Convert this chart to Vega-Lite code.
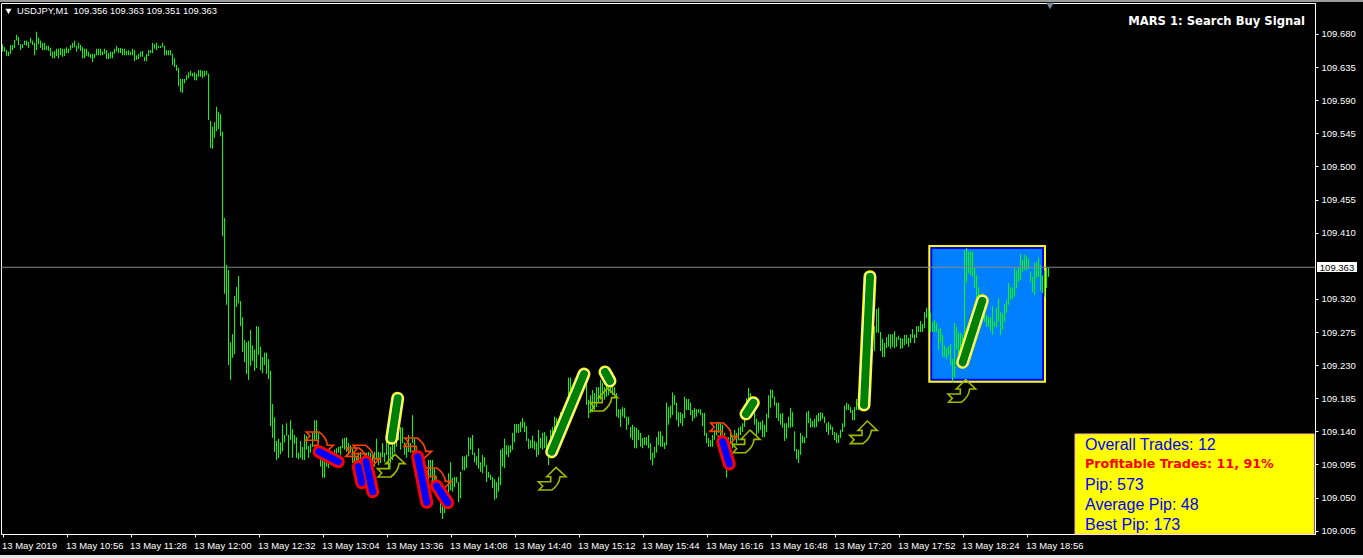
{"$schema":"https://vega.github.io/schema/vega-lite/v6.json","width":1314,"height":531,"autosize":"none","padding":{"left":1,"top":3,"right":48,"bottom":24},"background":"#000000","config":{"view":{"stroke":"#ffffff","strokeWidth":1,"fill":"#000000"},"axis":{"grid":false,"title":null,"domainColor":"#ffffff","tickColor":"#ffffff","labelColor":"#ffffff","labelFont":"Liberation Sans","labelFontSize":9.5,"tickSize":3}},
"encoding":{"x":{"field":"m","type":"quantitative","scale":{"domain":[623.25,1280.25],"nice":false,"zero":false,"clamp":false},"axis":{"title":null,"orient":"bottom","values":[624,656,688,720,752,784,816,848,880,912,944,976,1008,1040,1072,1104,1136],"labelAlign":"left","labelBaseline":"top","labelPadding":3,"labelOffset":-1,"labelOverlap":false,"labelFlush":false,"labelExpr":"datum.value==624?'13 May 2019':'13 May '+format(floor(datum.value/60),'02d')+':'+format(datum.value%60,'02d')"}},"y":{"field":"p","type":"quantitative","scale":{"domain":[109.0005,109.7221],"nice":false,"zero":false,"clamp":false},"axis":{"title":null,"orient":"right","values":[109.005,109.05,109.095,109.14,109.185,109.23,109.275,109.32,109.41,109.455,109.5,109.545,109.59,109.635,109.68],"format":".3f","labelPadding":3,"labelOverlap":false,"labelFlush":false}}},
"datasets":{
"boxes":[{"m":622.75,"m2":1304.25,"p":109.7262,"p2":109.7235,"part":"top"},{"m":622.75,"m2":1304.25,"p":108.972,"p2":108.9,"part":"bottom"},{"m":1086.9,"m2":1145.75,"p":109.3933,"p2":109.2061,"part":"outer"},{"m":1087.9,"m2":1144.75,"p":109.3905,"p2":109.2088,"part":"mid"},{"m":1088.9,"m2":1143.75,"p":109.3878,"p2":109.2116,"part":"inner"}],
"lastPrice":[{"m":623.25,"m2":1280.25,"p":109.363}],
"priceTag":[{"m":1281.25,"m2":1301.25,"p":109.3701,"p2":109.3566}],
"priceTagText":[{"m":1291.25,"p":109.3625,"label":"109.363"}],
"header":[{"m":631.25,"p":109.7112,"label":"USDJPY,M1\u00a0\u00a0109.356 109.363 109.351 109.363"}],
"marker":[{"m":627,"p":109.7106}],
"shift":[{"m":1147.75,"p":109.718}],
"signal":[{"m":1275.25,"p":109.6963,"label":"MARS 1: Search Buy Signal"}],
"panel":[{"m":1160.25,"m2":1279.75,"p":109.1364,"p2":109.0005}],
"panelText":[{"m":1165.25,"p":109.1228,"label":"Overall Trades: 12"},{"m":1165.25,"p":109.0684,"label":"Pip: 573"},{"m":1165.25,"p":109.0413,"label":"Average Pip: 48"},{"m":1165.25,"p":109.0141,"label":"Best Pip: 173"}],
"panelBold":[{"m":1165.25,"p":109.0956,"label":"Profitable Trades: 11, 91%"}],
"buyArrow":[{"m":818.6,"p":109.0929},{"m":899.1,"p":109.0752},{"m":924.9,"p":109.1826},{"m":996.1,"p":109.1259},{"m":1054.75,"p":109.1382},{"m":1103.9,"p":109.1944}],
"sellArrow":[{"m":782.75,"p":109.1242},{"m":802.75,"p":109.1024},{"m":806.1,"p":109.1061},{"m":831.9,"p":109.116},{"m":841.75,"p":109.0752},{"m":984.9,"p":109.1364}],
"buySeg":[{"m":818.6,"m2":821.6,"p":109.1305,"p2":109.1849},{"m":898.6,"m2":914.75,"p":109.1123,"p2":109.2179},{"m":925.25,"m2":927.75,"p":109.2206,"p2":109.2084},{"m":995.75,"m2":999.4,"p":109.1636,"p2":109.1789},{"m":1054.75,"m2":1057.75,"p":109.1758,"p2":109.3502},{"m":1104.1,"m2":1113.9,"p":109.2338,"p2":109.3175}],
"sellSeg":[{"m":782.25,"m2":791.9,"p":109.1123,"p2":109.0987},{"m":801.9,"m2":803.6,"p":109.092,"p2":109.0702},{"m":805.75,"m2":809.1,"p":109.0987,"p2":109.058},{"m":831.6,"m2":836.1,"p":109.1055,"p2":109.0436},{"m":841.1,"m2":846.6,"p":109.0657,"p2":109.043},{"m":984.1,"m2":987.4,"p":109.1259,"p2":109.0956}],
"bars":[
{"m":624,"p":109.666,"p2":109.656},{"m":625,"p":109.662,"p2":109.656},{"m":626,"p":109.658,"p2":109.65},{"m":627,"p":109.656,"p2":109.65},{"m":628,"p":109.665,"p2":109.653},{"m":629,"p":109.665,"p2":109.658},{"m":630,"p":109.672,"p2":109.661},{"m":631,"p":109.679,"p2":109.671},{"m":632,"p":109.676,"p2":109.665},{"m":633,"p":109.666,"p2":109.658},{"m":634,"p":109.666,"p2":109.661},{"m":635,"p":109.671,"p2":109.665},{"m":636,"p":109.671,"p2":109.664},{"m":637,"p":109.669,"p2":109.661},{"m":638,"p":109.675,"p2":109.668},{"m":639,"p":109.671,"p2":109.665},{"m":640,"p":109.668,"p2":109.651},{"m":641,"p":109.683,"p2":109.658},{"m":642,"p":109.675,"p2":109.666},{"m":643,"p":109.671,"p2":109.661},{"m":644,"p":109.668,"p2":109.658},{"m":645,"p":109.668,"p2":109.658},{"m":646,"p":109.664,"p2":109.658},{"m":647,"p":109.664,"p2":109.657},{"m":648,"p":109.661,"p2":109.65},{"m":649,"p":109.656,"p2":109.647},{"m":650,"p":109.657,"p2":109.647},{"m":651,"p":109.66,"p2":109.65},{"m":652,"p":109.66,"p2":109.647},{"m":653,"p":109.661,"p2":109.651},{"m":654,"p":109.66,"p2":109.649},{"m":655,"p":109.66,"p2":109.65},{"m":656,"p":109.662,"p2":109.654},{"m":657,"p":109.66,"p2":109.654},{"m":658,"p":109.665,"p2":109.658},{"m":659,"p":109.668,"p2":109.661},{"m":660,"p":109.671,"p2":109.662},{"m":661,"p":109.664,"p2":109.656},{"m":662,"p":109.668,"p2":109.66},{"m":663,"p":109.665,"p2":109.657},{"m":664,"p":109.662,"p2":109.647},{"m":665,"p":109.66,"p2":109.647},{"m":666,"p":109.66,"p2":109.65},{"m":667,"p":109.656,"p2":109.649},{"m":668,"p":109.653,"p2":109.647},{"m":669,"p":109.653,"p2":109.642},{"m":670,"p":109.653,"p2":109.647},{"m":671,"p":109.66,"p2":109.651},{"m":672,"p":109.66,"p2":109.651},{"m":673,"p":109.66,"p2":109.651},{"m":674,"p":109.656,"p2":109.651},{"m":675,"p":109.66,"p2":109.653},{"m":676,"p":109.658,"p2":109.646},{"m":677,"p":109.654,"p2":109.646},{"m":678,"p":109.656,"p2":109.647},{"m":679,"p":109.656,"p2":109.647},{"m":680,"p":109.66,"p2":109.653},{"m":681,"p":109.664,"p2":109.656},{"m":682,"p":109.661,"p2":109.654},{"m":683,"p":109.661,"p2":109.654},{"m":684,"p":109.66,"p2":109.651},{"m":685,"p":109.66,"p2":109.651},{"m":686,"p":109.657,"p2":109.651},{"m":687,"p":109.658,"p2":109.651},{"m":688,"p":109.656,"p2":109.651},{"m":689,"p":109.66,"p2":109.651},{"m":690,"p":109.658,"p2":109.643},{"m":691,"p":109.651,"p2":109.645},{"m":692,"p":109.653,"p2":109.646},{"m":693,"p":109.656,"p2":109.649},{"m":694,"p":109.657,"p2":109.649},{"m":695,"p":109.649,"p2":109.643},{"m":696,"p":109.653,"p2":109.643},{"m":697,"p":109.658,"p2":109.65},{"m":698,"p":109.658,"p2":109.654},{"m":699,"p":109.668,"p2":109.654},{"m":700,"p":109.666,"p2":109.66},{"m":701,"p":109.668,"p2":109.658},{"m":702,"p":109.664,"p2":109.661},{"m":703,"p":109.664,"p2":109.661},{"m":704,"p":109.668,"p2":109.662},{"m":705,"p":109.664,"p2":109.651},{"m":706,"p":109.658,"p2":109.651},{"m":707,"p":109.658,"p2":109.651},{"m":708,"p":109.658,"p2":109.651},{"m":709,"p":109.653,"p2":109.638},{"m":710,"p":109.647,"p2":109.635},{"m":711,"p":109.638,"p2":109.63},{"m":712,"p":109.634,"p2":109.609},{"m":713,"p":109.619,"p2":109.601},{"m":714,"p":109.619,"p2":109.6},{"m":715,"p":109.619,"p2":109.613},{"m":716,"p":109.624,"p2":109.617},{"m":717,"p":109.628,"p2":109.62},{"m":718,"p":109.63,"p2":109.623},{"m":719,"p":109.627,"p2":109.622},{"m":720,"p":109.628,"p2":109.617},{"m":721,"p":109.626,"p2":109.617},{"m":722,"p":109.631,"p2":109.622},{"m":723,"p":109.631,"p2":109.622},{"m":724,"p":109.63,"p2":109.62},{"m":725,"p":109.63,"p2":109.622},{"m":726,"p":109.63,"p2":109.624},{"m":727,"p":109.626,"p2":109.563},{"m":728,"p":109.562,"p2":109.525},{"m":729,"p":109.554,"p2":109.524},{"m":730,"p":109.56,"p2":109.539},{"m":731,"p":109.581,"p2":109.548},{"m":732,"p":109.574,"p2":109.551},{"m":733,"p":109.571,"p2":109.541},{"m":734,"p":109.547,"p2":109.405},{"m":735,"p":109.43,"p2":109.327},{"m":736,"p":109.366,"p2":109.312},{"m":737,"p":109.359,"p2":109.23},{"m":738,"p":109.261,"p2":109.21},{"m":739,"p":109.272,"p2":109.24},{"m":740,"p":109.324,"p2":109.245},{"m":741,"p":109.336,"p2":109.309},{"m":742,"p":109.351,"p2":109.314},{"m":743,"p":109.317,"p2":109.283},{"m":744,"p":109.295,"p2":109.248},{"m":745,"p":109.264,"p2":109.234},{"m":746,"p":109.261,"p2":109.218},{"m":747,"p":109.263,"p2":109.21},{"m":748,"p":109.278,"p2":109.229},{"m":749,"p":109.257,"p2":109.236},{"m":750,"p":109.251,"p2":109.222},{"m":751,"p":109.283,"p2":109.226},{"m":752,"p":109.282,"p2":109.244},{"m":753,"p":109.255,"p2":109.223},{"m":754,"p":109.241,"p2":109.219},{"m":755,"p":109.247,"p2":109.23},{"m":756,"p":109.247,"p2":109.218},{"m":757,"p":109.238,"p2":109.211},{"m":758,"p":109.222,"p2":109.147},{"m":759,"p":109.177,"p2":109.131},{"m":760,"p":109.159,"p2":109.112},{"m":761,"p":109.127,"p2":109.101},{"m":762,"p":109.13,"p2":109.104},{"m":763,"p":109.125,"p2":109.109},{"m":764,"p":109.149,"p2":109.113},{"m":765,"p":109.135,"p2":109.125},{"m":766,"p":109.151,"p2":109.134},{"m":767,"p":109.135,"p2":109.104},{"m":768,"p":109.155,"p2":109.128},{"m":769,"p":109.143,"p2":109.104},{"m":770,"p":109.135,"p2":109.123},{"m":771,"p":109.132,"p2":109.104},{"m":772,"p":109.111,"p2":109.102},{"m":773,"p":109.127,"p2":109.104},{"m":774,"p":109.119,"p2":109.101},{"m":775,"p":109.136,"p2":109.101},{"m":776,"p":109.134,"p2":109.115},{"m":777,"p":109.12,"p2":109.104},{"m":778,"p":109.123,"p2":109.111},{"m":779,"p":109.138,"p2":109.119},{"m":780,"p":109.155,"p2":109.128},{"m":781,"p":109.155,"p2":109.128},{"m":782,"p":109.138,"p2":109.124},{"m":783,"p":109.119,"p2":109.092},{"m":784,"p":109.111,"p2":109.077},{"m":785,"p":109.105,"p2":109.077},{"m":786,"p":109.101,"p2":109.092},{"m":787,"p":109.101,"p2":109.09},{"m":788,"p":109.111,"p2":109.097},{"m":789,"p":109.112,"p2":109.101},{"m":790,"p":109.115,"p2":109.105},{"m":791,"p":109.117,"p2":109.108},{"m":792,"p":109.119,"p2":109.111},{"m":793,"p":109.12,"p2":109.108},{"m":794,"p":109.13,"p2":109.117},{"m":795,"p":109.131,"p2":109.115},{"m":796,"p":109.132,"p2":109.112},{"m":797,"p":109.124,"p2":109.108},{"m":798,"p":109.121,"p2":109.111},{"m":799,"p":109.116,"p2":109.097},{"m":800,"p":109.111,"p2":109.092},{"m":801,"p":109.105,"p2":109.087},{"m":802,"p":109.111,"p2":109.09},{"m":803,"p":109.112,"p2":109.092},{"m":804,"p":109.104,"p2":109.078},{"m":805,"p":109.111,"p2":109.083},{"m":806,"p":109.111,"p2":109.087},{"m":807,"p":109.112,"p2":109.092},{"m":808,"p":109.111,"p2":109.09},{"m":809,"p":109.108,"p2":109.09},{"m":810,"p":109.112,"p2":109.092},{"m":811,"p":109.13,"p2":109.101},{"m":812,"p":109.112,"p2":109.094},{"m":813,"p":109.111,"p2":109.097},{"m":814,"p":109.124,"p2":109.105},{"m":815,"p":109.111,"p2":109.098},{"m":816,"p":109.128,"p2":109.108},{"m":817,"p":109.125,"p2":109.09},{"m":818,"p":109.119,"p2":109.097},{"m":819,"p":109.124,"p2":109.101},{"m":820,"p":109.128,"p2":109.111},{"m":821,"p":109.142,"p2":109.119},{"m":822,"p":109.145,"p2":109.128},{"m":823,"p":109.146,"p2":109.115},{"m":824,"p":109.145,"p2":109.124},{"m":825,"p":109.125,"p2":109.108},{"m":826,"p":109.119,"p2":109.104},{"m":827,"p":109.135,"p2":109.112},{"m":828,"p":109.124,"p2":109.111},{"m":829,"p":109.162,"p2":109.124},{"m":830,"p":109.131,"p2":109.104},{"m":831,"p":109.111,"p2":109.092},{"m":832,"p":109.105,"p2":109.083},{"m":833,"p":109.101,"p2":109.078},{"m":834,"p":109.092,"p2":109.07},{"m":835,"p":109.101,"p2":109.06},{"m":836,"p":109.092,"p2":109.071},{"m":837,"p":109.101,"p2":109.074},{"m":838,"p":109.101,"p2":109.077},{"m":839,"p":109.101,"p2":109.071},{"m":840,"p":109.09,"p2":109.056},{"m":841,"p":109.078,"p2":109.056},{"m":842,"p":109.074,"p2":109.049},{"m":843,"p":109.06,"p2":109.029},{"m":844,"p":109.06,"p2":109.021},{"m":845,"p":109.047,"p2":109.029},{"m":846,"p":109.051,"p2":109.037},{"m":847,"p":109.083,"p2":109.049},{"m":848,"p":109.098,"p2":109.06},{"m":849,"p":109.077,"p2":109.058},{"m":850,"p":109.078,"p2":109.064},{"m":851,"p":109.078,"p2":109.07},{"m":852,"p":109.071,"p2":109.044},{"m":853,"p":109.085,"p2":109.049},{"m":854,"p":109.106,"p2":109.087},{"m":855,"p":109.106,"p2":109.087},{"m":856,"p":109.108,"p2":109.09},{"m":857,"p":109.132,"p2":109.106},{"m":858,"p":109.131,"p2":109.115},{"m":859,"p":109.135,"p2":109.108},{"m":860,"p":109.111,"p2":109.098},{"m":861,"p":109.106,"p2":109.094},{"m":862,"p":109.117,"p2":109.089},{"m":863,"p":109.098,"p2":109.085},{"m":864,"p":109.108,"p2":109.083},{"m":865,"p":109.105,"p2":109.092},{"m":866,"p":109.094,"p2":109.071},{"m":867,"p":109.085,"p2":109.077},{"m":868,"p":109.081,"p2":109.074},{"m":869,"p":109.078,"p2":109.063},{"m":870,"p":109.075,"p2":109.047},{"m":871,"p":109.071,"p2":109.049},{"m":872,"p":109.078,"p2":109.058},{"m":873,"p":109.115,"p2":109.067},{"m":874,"p":109.117,"p2":109.092},{"m":875,"p":109.13,"p2":109.09},{"m":876,"p":109.121,"p2":109.108},{"m":877,"p":109.121,"p2":109.105},{"m":878,"p":109.121,"p2":109.111},{"m":879,"p":109.138,"p2":109.115},{"m":880,"p":109.15,"p2":109.125},{"m":881,"p":109.15,"p2":109.138},{"m":882,"p":109.15,"p2":109.138},{"m":883,"p":109.153,"p2":109.139},{"m":884,"p":109.158,"p2":109.145},{"m":885,"p":109.153,"p2":109.139},{"m":886,"p":109.147,"p2":109.127},{"m":887,"p":109.13,"p2":109.116},{"m":888,"p":109.128,"p2":109.117},{"m":889,"p":109.134,"p2":109.117},{"m":890,"p":109.127,"p2":109.115},{"m":891,"p":109.125,"p2":109.105},{"m":892,"p":109.142,"p2":109.108},{"m":893,"p":109.131,"p2":109.117},{"m":894,"p":109.138,"p2":109.115},{"m":895,"p":109.139,"p2":109.117},{"m":896,"p":109.134,"p2":109.115},{"m":897,"p":109.124,"p2":109.094},{"m":898,"p":109.142,"p2":109.115},{"m":899,"p":109.146,"p2":109.119},{"m":900,"p":109.16,"p2":109.128},{"m":901,"p":109.158,"p2":109.138},{"m":902,"p":109.155,"p2":109.139},{"m":903,"p":109.166,"p2":109.145},{"m":904,"p":109.169,"p2":109.149},{"m":905,"p":109.173,"p2":109.155},{"m":906,"p":109.176,"p2":109.162},{"m":907,"p":109.213,"p2":109.183},{"m":908,"p":109.213,"p2":109.189},{"m":909,"p":109.199,"p2":109.179},{"m":910,"p":109.206,"p2":109.187},{"m":911,"p":109.21,"p2":109.192},{"m":912,"p":109.214,"p2":109.196},{"m":913,"p":109.217,"p2":109.2},{"m":914,"p":109.219,"p2":109.2},{"m":915,"p":109.221,"p2":109.206},{"m":916,"p":109.206,"p2":109.176},{"m":917,"p":109.183,"p2":109.158},{"m":918,"p":109.189,"p2":109.165},{"m":919,"p":109.196,"p2":109.166},{"m":920,"p":109.192,"p2":109.169},{"m":921,"p":109.2,"p2":109.173},{"m":922,"p":109.2,"p2":109.179},{"m":923,"p":109.21,"p2":109.183},{"m":924,"p":109.206,"p2":109.185},{"m":925,"p":109.2,"p2":109.183},{"m":926,"p":109.206,"p2":109.187},{"m":927,"p":109.207,"p2":109.189},{"m":928,"p":109.203,"p2":109.192},{"m":929,"p":109.2,"p2":109.189},{"m":930,"p":109.2,"p2":109.187},{"m":931,"p":109.192,"p2":109.16},{"m":932,"p":109.17,"p2":109.158},{"m":933,"p":109.17,"p2":109.146},{"m":934,"p":109.173,"p2":109.16},{"m":935,"p":109.172,"p2":109.158},{"m":936,"p":109.16,"p2":109.142},{"m":937,"p":109.16,"p2":109.149},{"m":938,"p":109.146,"p2":109.131},{"m":939,"p":109.149,"p2":109.128},{"m":940,"p":109.146,"p2":109.117},{"m":941,"p":109.145,"p2":109.117},{"m":942,"p":109.142,"p2":109.128},{"m":943,"p":109.138,"p2":109.119},{"m":944,"p":109.131,"p2":109.117},{"m":945,"p":109.132,"p2":109.121},{"m":946,"p":109.132,"p2":109.121},{"m":947,"p":109.135,"p2":109.117},{"m":948,"p":109.124,"p2":109.101},{"m":949,"p":109.111,"p2":109.094},{"m":950,"p":109.119,"p2":109.104},{"m":951,"p":109.132,"p2":109.111},{"m":952,"p":109.14,"p2":109.121},{"m":953,"p":109.14,"p2":109.119},{"m":954,"p":109.134,"p2":109.119},{"m":955,"p":109.125,"p2":109.116},{"m":956,"p":109.179,"p2":109.121},{"m":957,"p":109.173,"p2":109.149},{"m":958,"p":109.175,"p2":109.158},{"m":959,"p":109.193,"p2":109.162},{"m":960,"p":109.189,"p2":109.176},{"m":961,"p":109.179,"p2":109.155},{"m":962,"p":109.166,"p2":109.146},{"m":963,"p":109.166,"p2":109.151},{"m":964,"p":109.164,"p2":109.147},{"m":965,"p":109.187,"p2":109.158},{"m":966,"p":109.184,"p2":109.169},{"m":967,"p":109.184,"p2":109.169},{"m":968,"p":109.179,"p2":109.162},{"m":969,"p":109.169,"p2":109.154},{"m":970,"p":109.172,"p2":109.158},{"m":971,"p":109.17,"p2":109.16},{"m":972,"p":109.17,"p2":109.165},{"m":973,"p":109.17,"p2":109.162},{"m":974,"p":109.165,"p2":109.147},{"m":975,"p":109.165,"p2":109.134},{"m":976,"p":109.138,"p2":109.124},{"m":977,"p":109.131,"p2":109.119},{"m":978,"p":109.128,"p2":109.119},{"m":979,"p":109.135,"p2":109.119},{"m":980,"p":109.142,"p2":109.128},{"m":981,"p":109.151,"p2":109.135},{"m":982,"p":109.153,"p2":109.138},{"m":983,"p":109.151,"p2":109.128},{"m":984,"p":109.149,"p2":109.132},{"m":985,"p":109.138,"p2":109.119},{"m":986,"p":109.119,"p2":109.077},{"m":987,"p":109.132,"p2":109.115},{"m":988,"p":109.142,"p2":109.124},{"m":989,"p":109.135,"p2":109.117},{"m":990,"p":109.142,"p2":109.128},{"m":991,"p":109.138,"p2":109.124},{"m":992,"p":109.145,"p2":109.128},{"m":993,"p":109.147,"p2":109.135},{"m":994,"p":109.151,"p2":109.139},{"m":995,"p":109.165,"p2":109.146},{"m":996,"p":109.185,"p2":109.165},{"m":997,"p":109.199,"p2":109.172},{"m":998,"p":109.192,"p2":109.179},{"m":999,"p":109.176,"p2":109.165},{"m":1000,"p":109.172,"p2":109.149},{"m":1001,"p":109.157,"p2":109.132},{"m":1002,"p":109.153,"p2":109.138},{"m":1003,"p":109.153,"p2":109.142},{"m":1004,"p":109.155,"p2":109.132},{"m":1005,"p":109.149,"p2":109.132},{"m":1006,"p":109.164,"p2":109.139},{"m":1007,"p":109.189,"p2":109.158},{"m":1008,"p":109.197,"p2":109.172},{"m":1009,"p":109.196,"p2":109.185},{"m":1010,"p":109.187,"p2":109.175},{"m":1011,"p":109.179,"p2":109.158},{"m":1012,"p":109.179,"p2":109.154},{"m":1013,"p":109.164,"p2":109.149},{"m":1014,"p":109.165,"p2":109.145},{"m":1015,"p":109.151,"p2":109.127},{"m":1016,"p":109.151,"p2":109.13},{"m":1017,"p":109.16,"p2":109.145},{"m":1018,"p":109.172,"p2":109.145},{"m":1019,"p":109.166,"p2":109.146},{"m":1020,"p":109.14,"p2":109.113},{"m":1021,"p":109.116,"p2":109.102},{"m":1022,"p":109.115,"p2":109.097},{"m":1023,"p":109.138,"p2":109.108},{"m":1024,"p":109.134,"p2":109.124},{"m":1025,"p":109.132,"p2":109.124},{"m":1026,"p":109.166,"p2":109.131},{"m":1027,"p":109.168,"p2":109.151},{"m":1028,"p":109.158,"p2":109.145},{"m":1029,"p":109.154,"p2":109.146},{"m":1030,"p":109.157,"p2":109.145},{"m":1031,"p":109.162,"p2":109.146},{"m":1032,"p":109.165,"p2":109.153},{"m":1033,"p":109.166,"p2":109.154},{"m":1034,"p":109.165,"p2":109.157},{"m":1035,"p":109.16,"p2":109.151},{"m":1036,"p":109.151,"p2":109.139},{"m":1037,"p":109.153,"p2":109.135},{"m":1038,"p":109.149,"p2":109.142},{"m":1039,"p":109.146,"p2":109.135},{"m":1040,"p":109.139,"p2":109.128},{"m":1041,"p":109.138,"p2":109.124},{"m":1042,"p":109.135,"p2":109.124},{"m":1043,"p":109.142,"p2":109.131},{"m":1044,"p":109.151,"p2":109.139},{"m":1045,"p":109.175,"p2":109.146},{"m":1046,"p":109.179,"p2":109.169},{"m":1047,"p":109.177,"p2":109.169},{"m":1048,"p":109.173,"p2":109.165},{"m":1049,"p":109.169,"p2":109.155},{"m":1050,"p":109.173,"p2":109.155},{"m":1051,"p":109.184,"p2":109.169},{"m":1052,"p":109.18,"p2":109.169},{"m":1053,"p":109.183,"p2":109.172},{"m":1054,"p":109.203,"p2":109.172},{"m":1055,"p":109.217,"p2":109.176},{"m":1056,"p":109.257,"p2":109.203},{"m":1057,"p":109.318,"p2":109.251},{"m":1058,"p":109.346,"p2":109.278},{"m":1059,"p":109.318,"p2":109.257},{"m":1060,"p":109.283,"p2":109.249},{"m":1061,"p":109.306,"p2":109.274},{"m":1062,"p":109.308,"p2":109.274},{"m":1063,"p":109.275,"p2":109.249},{"m":1064,"p":109.266,"p2":109.241},{"m":1065,"p":109.26,"p2":109.241},{"m":1066,"p":109.268,"p2":109.253},{"m":1067,"p":109.272,"p2":109.255},{"m":1068,"p":109.272,"p2":109.252},{"m":1069,"p":109.272,"p2":109.255},{"m":1070,"p":109.276,"p2":109.253},{"m":1071,"p":109.268,"p2":109.255},{"m":1072,"p":109.27,"p2":109.264},{"m":1073,"p":109.267,"p2":109.252},{"m":1074,"p":109.266,"p2":109.253},{"m":1075,"p":109.271,"p2":109.257},{"m":1076,"p":109.271,"p2":109.259},{"m":1077,"p":109.267,"p2":109.255},{"m":1078,"p":109.272,"p2":109.26},{"m":1079,"p":109.279,"p2":109.267},{"m":1080,"p":109.272,"p2":109.26},{"m":1081,"p":109.283,"p2":109.267},{"m":1082,"p":109.283,"p2":109.275},{"m":1083,"p":109.29,"p2":109.275},{"m":1084,"p":109.286,"p2":109.275},{"m":1085,"p":109.302,"p2":109.28},{"m":1086,"p":109.308,"p2":109.294},{"m":1087,"p":109.306,"p2":109.275},{"m":1088,"p":109.301,"p2":109.275},{"m":1089,"p":109.289,"p2":109.275},{"m":1090,"p":109.291,"p2":109.275},{"m":1091,"p":109.287,"p2":109.275},{"m":1092,"p":109.279,"p2":109.251},{"m":1093,"p":109.28,"p2":109.261},{"m":1094,"p":109.271,"p2":109.241},{"m":1095,"p":109.257,"p2":109.241},{"m":1096,"p":109.253,"p2":109.238},{"m":1097,"p":109.256,"p2":109.244},{"m":1098,"p":109.259,"p2":109.23},{"m":1099,"p":109.238,"p2":109.207},{"m":1100,"p":109.287,"p2":109.214},{"m":1101,"p":109.282,"p2":109.251},{"m":1102,"p":109.274,"p2":109.244},{"m":1103,"p":109.274,"p2":109.244},{"m":1104,"p":109.271,"p2":109.246},{"m":1105,"p":109.386,"p2":109.261},{"m":1106,"p":109.389,"p2":109.342},{"m":1107,"p":109.384,"p2":109.355},{"m":1108,"p":109.385,"p2":109.352},{"m":1109,"p":109.384,"p2":109.35},{"m":1110,"p":109.362,"p2":109.335},{"m":1111,"p":109.352,"p2":109.314},{"m":1112,"p":109.336,"p2":109.314},{"m":1113,"p":109.323,"p2":109.309},{"m":1114,"p":109.323,"p2":109.291},{"m":1115,"p":109.312,"p2":109.289},{"m":1116,"p":109.298,"p2":109.282},{"m":1117,"p":109.295,"p2":109.282},{"m":1118,"p":109.295,"p2":109.276},{"m":1119,"p":109.31,"p2":109.271},{"m":1120,"p":109.289,"p2":109.282},{"m":1121,"p":109.308,"p2":109.282},{"m":1122,"p":109.321,"p2":109.289},{"m":1123,"p":109.302,"p2":109.271},{"m":1124,"p":109.3,"p2":109.278},{"m":1125,"p":109.313,"p2":109.289},{"m":1126,"p":109.319,"p2":109.301},{"m":1127,"p":109.342,"p2":109.312},{"m":1128,"p":109.336,"p2":109.319},{"m":1129,"p":109.335,"p2":109.32},{"m":1130,"p":109.363,"p2":109.323},{"m":1131,"p":109.359,"p2":109.335},{"m":1132,"p":109.363,"p2":109.343},{"m":1133,"p":109.381,"p2":109.346},{"m":1134,"p":109.373,"p2":109.357},{"m":1135,"p":109.38,"p2":109.359},{"m":1136,"p":109.378,"p2":109.359},{"m":1137,"p":109.374,"p2":109.361},{"m":1138,"p":109.357,"p2":109.343},{"m":1139,"p":109.35,"p2":109.329},{"m":1140,"p":109.369,"p2":109.325},{"m":1141,"p":109.37,"p2":109.348},{"m":1142,"p":109.376,"p2":109.35},{"m":1143,"p":109.366,"p2":109.331},{"m":1144,"p":109.352,"p2":109.328},{"m":1145,"p":109.359,"p2":109.323},{"m":1146,"p":109.362,"p2":109.335},{"m":1147,"p":109.362,"p2":109.35}
]},
"layer":[
{"data":{"name":"boxes"},"mark":{"type":"rect"},"encoding":{"x2":{"field":"m2"},"y2":{"field":"p2"},"color":{"field":"part","type":"nominal","legend":null,"sort":null,"scale":{"domain":["top","bottom","outer","mid","inner"],"range":["#9a9a9a","#e6e6e6","#ffff00","#0000ff","#0080ff"]}}}},
{"data":{"name":"bars"},"mark":{"type":"rule","color":"#00ff00","strokeWidth":1},"encoding":{"y2":{"field":"p2"}}},
{"data":{"name":"lastPrice"},"mark":{"type":"rule","color":"#8a8a8a","strokeWidth":1},"encoding":{"x2":{"field":"m2"}}},
{"data":{"name":"panel"},"mark":{"type":"rect","fill":"#ffff00","stroke":"#ffb8a8","strokeWidth":1},"encoding":{"x2":{"field":"m2"},"y2":{"field":"p2"}}},
{"data":{"name":"panelText"},"mark":{"type":"text","align":"left","baseline":"middle","dy":1,"font":"Liberation Sans","fontSize":16,"fill":"#0000ff"},"encoding":{"text":{"field":"label"}}},
{"data":{"name":"panelBold"},"mark":{"type":"text","align":"left","baseline":"middle","font":"DejaVu Sans","fontWeight":"bold","fontSize":12.7,"fill":"#ff0000"},"encoding":{"text":{"field":"label"}}},
{"data":{"name":"priceTag"},"mark":{"type":"rect","fill":"#ffffff"},"encoding":{"x2":{"field":"m2"},"y2":{"field":"p2"}}},
{"data":{"name":"priceTagText"},"mark":{"type":"text","align":"center","baseline":"middle","font":"Liberation Sans","fontSize":9.5,"fill":"#000000"},"encoding":{"text":{"field":"label"}}},
{"data":{"name":"header"},"mark":{"type":"text","align":"left","baseline":"middle","font":"Liberation Sans","fontSize":9.4,"fill":"#ffffff"},"encoding":{"text":{"field":"label"}}},
{"data":{"name":"signal"},"mark":{"type":"text","align":"right","baseline":"middle","font":"DejaVu Sans","fontWeight":"bold","fontSize":11.6,"fill":"#ffffff"},"encoding":{"text":{"field":"label"}}},
{"data":{"name":"marker"},"mark":{"type":"point","shape":"triangle-down","size":38,"filled":true,"fill":"#ffffff","opacity":1}},
{"data":{"name":"shift"},"mark":{"type":"point","shape":"triangle-down","size":55,"filled":true,"fill":"#778899","opacity":1}},
{"data":{"name":"buyArrow"},"mark":{"type":"point","shape":"M0.25,-0.875L1,-0.175L0.55,-0.175Q0.5,0.4 -0.075,0.825L-1.025,0.825L-0.75,0.525L-1.075,0.2L-0.15,0.2L-0.15,-0.175L-0.45,-0.175Z","size":711,"filled":false,"stroke":"#9fb800","strokeWidth":1.6,"opacity":1}},
{"data":{"name":"sellArrow"},"mark":{"type":"point","shape":"M0.25,0.875L1,0.175L0.55,0.175Q0.5,-0.4 -0.075,-0.825L-1.025,-0.825L-0.75,-0.525L-1.075,-0.2L-0.15,-0.2L-0.15,0.175L-0.45,0.175Z","size":711,"filled":false,"stroke":"#ff4400","strokeWidth":1.6,"opacity":1}},
{"data":{"name":"buySeg"},"mark":{"type":"rule","color":"#ffff00","strokeWidth":13,"strokeCap":"round"},"encoding":{"x2":{"field":"m2"},"y2":{"field":"p2"}}},
{"data":{"name":"buySeg"},"mark":{"type":"rule","color":"#ffffff","strokeWidth":10,"strokeCap":"round"},"encoding":{"x2":{"field":"m2"},"y2":{"field":"p2"}}},
{"data":{"name":"buySeg"},"mark":{"type":"rule","color":"#008000","strokeWidth":8,"strokeCap":"round"},"encoding":{"x2":{"field":"m2"},"y2":{"field":"p2"}}},
{"data":{"name":"sellSeg"},"mark":{"type":"rule","color":"#ff0000","strokeWidth":13,"strokeCap":"round"},"encoding":{"x2":{"field":"m2"},"y2":{"field":"p2"}}},
{"data":{"name":"sellSeg"},"mark":{"type":"rule","color":"#0000ff","strokeWidth":7,"strokeCap":"round"},"encoding":{"x2":{"field":"m2"},"y2":{"field":"p2"}}}
]}
